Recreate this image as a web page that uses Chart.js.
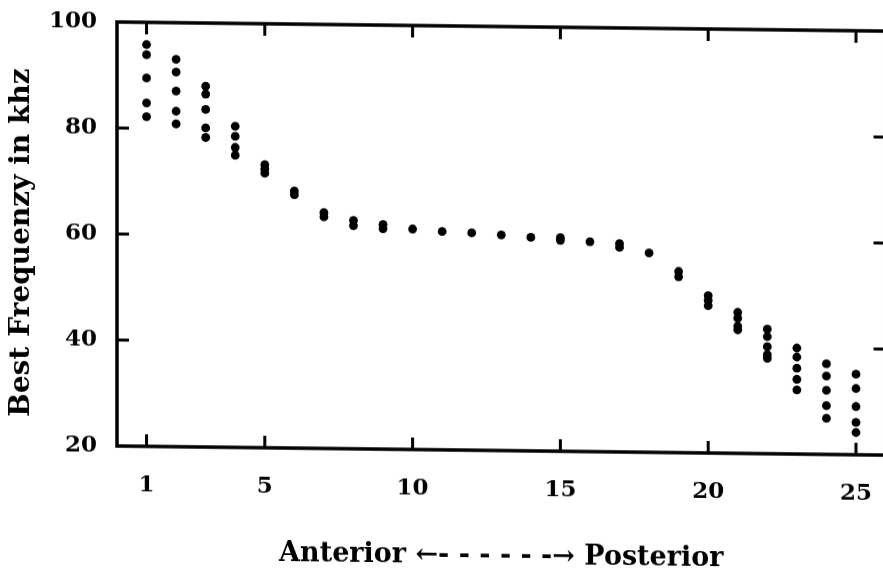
<!DOCTYPE html>
<html>
<head>
<meta charset="utf-8">
<script src="https://cdn.jsdelivr.net/npm/chart.js@4/dist/chart.umd.min.js"></script>
<style>
  html, body { margin: 0; padding: 0; background: #fff; overflow: hidden; }
  #wrap { width: 883px; height: 576px; overflow: hidden; }
  /* the scanned original is slightly sheared, right side sits lower */
  #chart { display: block; transform: skewY(0.68deg); transform-origin: 117px 0; }
</style>
</head>
<body>
<div id="wrap"><canvas id="chart" width="890" height="576"></canvas></div>
<script>
// segment position along the cochlea (anterior -> posterior)
const segments = [1, 2, 3, 4, 5, 6, 7, 8, 9, 10, 11, 12, 13, 14, 15, 16, 17, 18, 19, 20, 21, 22, 23, 24, 25];

// best frequencies (kHz) measured at each segment
const bestFrequency = [
  [95.8, 93.9, 89.5, 84.8, 82.2],
  [93.1, 90.7, 87.1, 83.3, 80.9],
  [88.1, 86.6, 83.7, 80.2, 78.4],
  [80.6, 78.7, 76.6, 75.1],
  [73.4, 72.6, 71.8],
  [68.5, 67.8],
  [64.5, 63.7],
  [63.1, 62.1],
  [62.4, 61.6],
  [61.6],
  [61.2],
  [61.0],
  [60.7],
  [60.3],
  [60.3, 59.8],
  [59.6],
  [59.3, 58.6],
  [57.6],
  [54.2, 53.2],
  [49.7, 48.8, 47.8],
  [46.6, 45.5, 44.0, 43.3],
  [43.5, 42.1, 40.2, 38.7, 38.0],
  [40.0, 38.3, 36.2, 34.1, 32.1],
  [37.1, 34.8, 32.1, 29.2, 26.8],
  [35.2, 32.5, 29.1, 26.1, 24.2]
];

const xTicks = [1, 5, 10, 15, 20, 25];
const yTicks = [20, 40, 60, 80, 100];

const xTitle = 'Anterior \u2190- - - - - -\u2192 Posterior';
const yTitle = 'Best Frequenzy in khz  ';

const points = [];
segments.forEach((seg, i) => {
  bestFrequency[i].forEach(f => points.push({ x: seg, y: f }));
});

const fontFamily = "'DejaVu Serif', 'Liberation Serif', serif";

// box around the plot with inward tick marks
const framePlugin = {
  id: 'frame',
  afterDatasetsDraw(chart) {
    const { ctx, chartArea: a, scales: { x, y } } = chart;
    ctx.save();
    ctx.strokeStyle = '#000';
    ctx.lineWidth = 3.5;
    ctx.strokeRect(a.left, a.top, a.right - a.left, a.bottom - a.top);
    ctx.lineWidth = 3;
    ctx.beginPath();
    xTicks.forEach(v => {
      const px = x.getPixelForValue(v);
      ctx.moveTo(px, a.bottom);
      ctx.lineTo(px, a.bottom - 12);
      ctx.moveTo(px, a.top);
      ctx.lineTo(px, a.top + 12);
    });
    yTicks.slice(1, -1).forEach(v => {
      const py = y.getPixelForValue(v);
      ctx.moveTo(a.left, py);
      ctx.lineTo(a.left + 12, py);
      ctx.moveTo(a.right, py);
      ctx.lineTo(a.right - 12, py);
    });
    ctx.stroke();
    ctx.restore();
  }
};

new Chart(document.getElementById('chart').getContext('2d'), {
  type: 'scatter',
  data: {
    datasets: [{
      data: points,
      backgroundColor: '#000',
      borderWidth: 0,
      pointRadius: 4.4,
      pointHoverRadius: 4.4
    }]
  },
  options: {
    responsive: false,
    animation: false,
    devicePixelRatio: 1,
    layout: { padding: { top: 22, right: 4, left: 0, bottom: 0 } },
    plugins: {
      legend: { display: false },
      tooltip: { enabled: false }
    },
    scales: {
      x: {
        type: 'linear',
        min: 0,
        max: 26,
        grid: { display: false, drawTicks: false },
        border: { display: false },
        afterBuildTicks: scale => { scale.ticks = xTicks.map(v => ({ value: v })); },
        afterFit: scale => {
          scale.height = 130;
          scale.paddingLeft = 0;
          scale.paddingRight = 0;
        },
        ticks: {
          color: '#000',
          padding: 25,
          font: { family: fontFamily, size: 23, weight: 'bold' }
        },
        title: {
          display: true,
          text: xTitle,
          color: '#000',
          padding: { top: 0, bottom: 8 },
          font: { family: fontFamily, size: 27, weight: 'bold' }
        }
      },
      y: {
        type: 'linear',
        min: 20,
        max: 100,
        grid: { display: false, drawTicks: false },
        border: { display: false },
        afterBuildTicks: scale => { scale.ticks = yTicks.map(v => ({ value: v })); },
        afterFit: scale => {
          scale.width = 117;
          scale.paddingTop = 0;
          scale.paddingBottom = 0;
        },
        ticks: {
          color: '#000',
          padding: 20,
          font: { family: fontFamily, size: 23, weight: 'bold' }
        },
        title: {
          display: true,
          text: yTitle,
          color: '#000',
          padding: { top: 5, bottom: 0 },
          font: { family: fontFamily, size: 28, weight: 'bold' }
        }
      }
    }
  },
  plugins: [framePlugin]
});
</script>
</body>
</html>
